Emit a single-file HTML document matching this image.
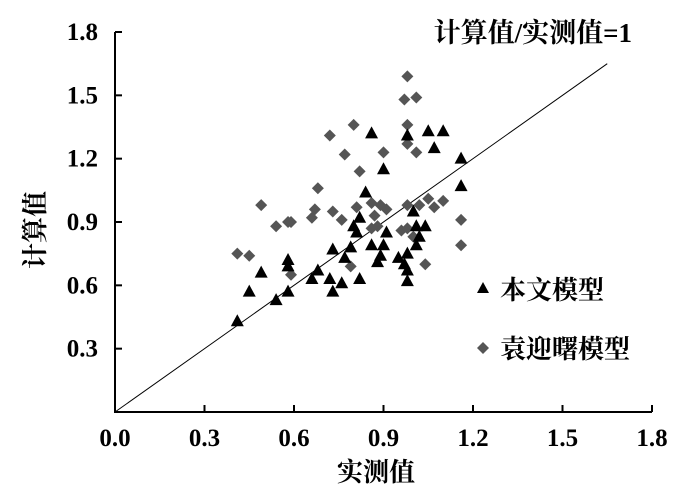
<!DOCTYPE html>
<html><head><meta charset="utf-8"><style>
html,body{margin:0;padding:0;background:#fff;}
svg{display:block;}
text{font-family:"Liberation Serif","Noto Serif CJK SC",serif;font-weight:bold;fill:#000;}
</style></head><body>
<svg id="chart" width="700" height="492">
</svg>
<script>
const xTicks=[0,0.3,0.6,0.9,1.2,1.5,1.8];
const yTicks=[0.3,0.6,0.9,1.2,1.5,1.8];
const tickLabels=["0.0","0.3","0.6","0.9","1.2","1.5","1.8"];
const triX=[0.41,0.45,0.49,0.54,0.58,0.58,0.58,0.66,0.68,0.72,0.73,0.76,0.73,0.77,0.79,0.82,0.80,0.81,0.82,0.84,0.86,0.86,0.89,0.88,0.90,0.90,0.91,0.95,0.97,0.98,0.98,0.98,0.98,1.00,1.01,1.01,1.02,1.04,1.05,1.10,1.07,1.16,1.16];
const triY=[0.43,0.57,0.66,0.53,0.57,0.72,0.69,0.63,0.67,0.63,0.57,0.61,0.77,0.73,0.78,0.63,0.88,0.85,0.92,1.04,1.32,0.79,0.74,0.71,0.79,1.15,0.85,0.73,0.70,0.75,0.67,0.62,1.31,0.95,0.88,0.79,0.83,0.88,1.33,1.33,1.25,1.20,1.07];
const diaX=[0.98,0.97,1.01,0.80,0.72,0.98,0.98,1.01,0.90,0.77,0.82,0.68,0.49,0.67,0.66,0.73,0.76,0.54,0.58,0.59,0.81,0.86,0.89,0.91,0.87,0.88,0.86,0.98,1.02,1.05,1.07,1.10,0.96,0.98,1.00,1.16,1.16,0.41,0.45,0.59,0.79,1.04];
const diaY=[1.59,1.48,1.49,1.36,1.31,1.36,1.27,1.23,1.23,1.22,1.14,1.06,0.98,0.96,0.92,0.95,0.91,0.88,0.90,0.90,0.97,0.99,0.98,0.96,0.93,0.88,0.87,0.98,0.98,1.01,0.97,1.00,0.86,0.87,0.83,0.91,0.79,0.75,0.74,0.65,0.69,0.70];
const refLine=[0,1.65];

const X0=115,X1=652,Y0=412,Y1=32;
const sx=v=>X0+(v/1.8)*(X1-X0);
const sy=v=>Y0-(v/1.8)*(Y0-Y1);
const svg=document.getElementById('chart');
const NS='http://www.w3.org/2000/svg';
function mk(tag,attrs,parent){const e=document.createElementNS(NS,tag);for(const k in attrs)e.setAttribute(k,attrs[k]);(parent||svg).appendChild(e);return e;}

let ln=mk('line',{x1:sx(refLine[0]),y1:sy(refLine[0]),x2:sx(refLine[1]),y2:sy(refLine[1]),stroke:'#000','stroke-width':1});



diaX.forEach((v,i)=>{const cx=sx(v),cy=sy(diaY[i]);
 const p=mk('polygon',{points:`${cx},${cy-6} ${cx+6},${cy} ${cx},${cy+6} ${cx-6},${cy}`,fill:'#555'});
 
 });
triX.forEach((v,i)=>{const cx=sx(v),cy=sy(triY[i]);
 const p=mk('polygon',{points:`${cx},${cy-7} ${cx+6.5},${cy+5} ${cx-6.5},${cy+5}`,fill:'#000'});
 
 });

let ax=mk('path',{d:`M${X0},${Y1} V${Y0} H${X1}`,stroke:'#000','stroke-width':2,fill:'none'});


xTicks.forEach((v,i)=>{
 if(i>0){const t=mk('line',{x1:sx(v),x2:sx(v),y1:Y0,y2:Y0-7,stroke:'#000','stroke-width':2});
 
 }
 const l=mk('text',{x:sx(v),y:446,'text-anchor':'middle','font-size':25});l.textContent=tickLabels[i];
 
 
});
yTicks.forEach((v,i)=>{
 const t=mk('line',{x1:X0,x2:X0+7,y1:sy(v),y2:sy(v),stroke:'#000','stroke-width':2});
 
 
 const l=mk('text',{x:98,y:sy(v)+8,'text-anchor':'end','font-size':25});l.textContent=tickLabels[i+1];
 
 
});
</script>
<svg width="700" height="492" style="position:absolute;left:0;top:0">
<text x="376" y="481" text-anchor="middle" font-size="26">实测值</text>
<text transform="translate(44,230) rotate(-90)" text-anchor="middle" font-size="26">计算值</text>
<text x="632" y="42" text-anchor="end" font-size="27">计算值/实测值=1</text>
<g>
<polygon points="483,282 489,293 477,293" fill="#000"/>
<text x="500" y="299" font-size="26">本文模型</text>
<polygon points="483,342 489,348 483,354 477,348" fill="#555"/>
<text x="500" y="358" font-size="26">袁迎曙模型</text>
</g>
</svg>
</body></html>
